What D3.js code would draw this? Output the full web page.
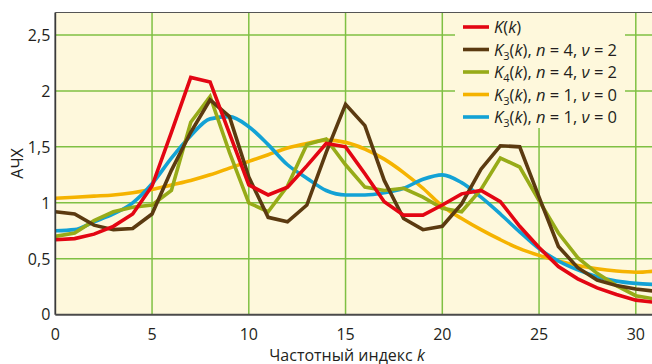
<!DOCTYPE html>
<html>
<head>
<meta charset="utf-8">
<script src="https://cdn.jsdelivr.net/npm/d3@7"></script>
<style>
  body { margin: 0; background: #fff; }
  text { font-family: "Open Sans", "Noto Sans", sans-serif; fill: #231f20; }
</style>
</head>
<body>
<div id="chart"></div>
<script>
// data, k = 0..31
var kIndex = d3.range(0, 32);
var seriesRed    = [0.67,0.68,0.72,0.79,0.90,1.15,1.63,2.12,2.08,1.62,1.16,1.07,1.14,1.33,1.53,1.50,1.26,1.01,0.89,0.89,0.98,1.08,1.11,1.01,0.79,0.60,0.43,0.32,0.24,0.18,0.13,0.11];
var seriesBrown  = [0.92,0.90,0.80,0.76,0.77,0.90,1.29,1.63,1.92,1.77,1.23,0.87,0.83,0.98,1.45,1.88,1.69,1.20,0.86,0.76,0.79,0.99,1.30,1.51,1.50,1.05,0.61,0.42,0.31,0.26,0.23,0.21];
var seriesGreen  = [0.70,0.73,0.84,0.92,0.96,0.98,1.11,1.72,1.95,1.45,1.00,0.92,1.15,1.52,1.57,1.34,1.14,1.11,1.13,1.05,0.95,0.92,1.12,1.40,1.32,1.02,0.73,0.51,0.37,0.26,0.17,0.14];
var seriesYellow = [1.04,1.05,1.06,1.07,1.09,1.12,1.16,1.20,1.25,1.31,1.37,1.43,1.49,1.53,1.56,1.54,1.48,1.39,1.27,1.13,0.97,0.86,0.76,0.67,0.59,0.53,0.48,0.44,0.41,0.39,0.38,0.39];
var seriesBlue   = [0.75,0.76,0.83,0.90,1.00,1.17,1.40,1.60,1.75,1.77,1.68,1.52,1.34,1.22,1.11,1.07,1.07,1.09,1.13,1.21,1.25,1.18,1.05,0.90,0.74,0.59,0.48,0.40,0.34,0.30,0.28,0.27];

var xTicks = [0, 5, 10, 15, 20, 25, 30];
var yTicks = [0, 0.5, 1, 1.5, 2, 2.5];

// legend pieces: subscript, n, nu
var legendSub = ["", "3", "4", "3", "3"];
var legendN   = [null, 4, 4, 1, 1];
var legendNu  = [null, 2, 2, 0, 0];

var lines = [
  {values: seriesRed,    color: "#e30613", smooth: false},
  {values: seriesBrown,  color: "#5b3a10", smooth: false},
  {values: seriesGreen,  color: "#97ab18", smooth: false},
  {values: seriesYellow, color: "#f5b300", smooth: true},
  {values: seriesBlue,   color: "#13a2d5", smooth: true}
];

// dimensions
var W = 652, H = 364;
var margin = {top: 12.5, right: 0, bottom: 49.3, left: 55.3},
    width = W - margin.left - margin.right,
    height = H - margin.top - margin.bottom;

var svg = d3.select("#chart").append("svg")
    .attr("width", W)
    .attr("height", H);

var g = svg.append("g")
    .attr("transform", "translate(" + margin.left + "," + margin.top + ")");

var x = d3.scaleLinear().domain([0, width / 19.35]).range([0, width]);
var y = d3.scaleLinear().domain([0, height / 111.9]).range([height, 0]);

var fmt = function(v) { return String(v).replace(".", ","); };

// background
g.append("rect")
    .attr("width", width)
    .attr("height", height)
    .style("fill", "#fef8dc");

// grid
g.selectAll(".gx").data(xTicks.filter(function(d) { return d > 0; }))
  .enter().append("line")
    .attr("x1", function(d) { return x(d); })
    .attr("x2", function(d) { return x(d); })
    .attr("y1", 0).attr("y2", height)
    .style("stroke", "#7fc043").style("stroke-width", 1.5);

g.selectAll(".gy").data(yTicks.filter(function(d) { return d > 0; }))
  .enter().append("line")
    .attr("y1", function(d) { return y(d); })
    .attr("y2", function(d) { return y(d); })
    .attr("x1", 0).attr("x2", width)
    .style("stroke", "#7fc043").style("stroke-width", 1.5);

// clip for the curves
svg.append("defs").append("clipPath").attr("id", "clip")
  .append("rect").attr("width", width).attr("height", height);

var plot = g.append("g").attr("clip-path", "url(#clip)");

// draw from back to front
[3, 4, 2, 1, 0].forEach(function(i) {
  var s = lines[i];
  var line = d3.line()
      .x(function(d, j) { return x(kIndex[j]); })
      .y(function(d) { return y(d); })
      .curve(s.smooth ? d3.curveMonotoneX : d3.curveLinear);
  plot.append("path")
      .datum(s.values)
      .attr("d", line)
      .style("fill", "none")
      .style("stroke", s.color)
      .style("stroke-width", 3.6)
      .style("stroke-linejoin", "miter");
});

// legend
var lg = g.append("g").attr("transform", "translate(" + (455 - margin.left) + ",0)");
lg.append("rect")
    .attr("width", 170)
    .attr("height", 128 - margin.top)
    .style("fill", "#fef8dc");

lines.forEach(function(s, i) {
  var ry = 14.5 + i * 22.5;
  lg.append("line")
      .attr("x1", 8).attr("x2", 34)
      .attr("y1", ry).attr("y2", ry)
      .style("stroke", s.color).style("stroke-width", 3.6);
  var t = lg.append("text")
      .attr("x", 39).attr("y", ry + 6)
      .style("font-size", "16.5px");
  t.append("tspan").style("font-style", "italic").text("K");
  if (legendSub[i]) {
    t.append("tspan").attr("dy", 4).style("font-size", "11px").text(legendSub[i]);
    t.append("tspan").attr("dy", -4).text("(");
  } else {
    t.append("tspan").text("(");
  }
  t.append("tspan").style("font-style", "italic").text("k");
  t.append("tspan").text(")");
  if (legendN[i] !== null) {
    t.append("tspan").text(", ");
    t.append("tspan").style("font-style", "italic").text("n");
    t.append("tspan").text(" = " + legendN[i] + ", ");
    t.append("tspan").style("font-style", "italic").text("\u03bd");
    t.append("tspan").text(" = " + legendNu[i]);
  }
});

// frame: top border, left and bottom axes
g.append("line")
    .attr("x1", 0).attr("x2", width).attr("y1", 0).attr("y2", 0)
    .style("stroke", "#555").style("stroke-width", 1.2);
g.append("line")
    .attr("x1", 0).attr("x2", 0).attr("y1", 0).attr("y2", height)
    .style("stroke", "#3a3a3a").style("stroke-width", 1.8);
g.append("line")
    .attr("x1", 0).attr("x2", width).attr("y1", height).attr("y2", height)
    .style("stroke", "#4a4a4a").style("stroke-width", 2);

// tick labels
g.selectAll(".yl").data(yTicks)
  .enter().append("text")
    .attr("x", -5)
    .attr("y", function(d) { return y(d); })
    .attr("dy", "0.36em")
    .attr("text-anchor", "end")
    .style("font-size", "16px")
    .text(fmt);

g.selectAll(".xl").data(xTicks)
  .enter().append("text")
    .attr("x", function(d) { return x(d); })
    .attr("y", height + 25)
    .attr("text-anchor", "middle")
    .style("font-size", "16px")
    .text(fmt);

// axis titles
var xt = svg.append("text")
    .attr("x", 347)
    .attr("y", 360.5)
    .attr("text-anchor", "middle")
    .style("font-size", "16px");
xt.append("tspan").text("Частотный индекс ");
xt.append("tspan").style("font-style", "italic").text("k");

svg.append("text")
    .attr("transform", "translate(22.5,163.5) rotate(-90)")
    .attr("text-anchor", "middle")
    .style("font-size", "16px")
    .text("АЧХ");
</script>
</body>
</html>
